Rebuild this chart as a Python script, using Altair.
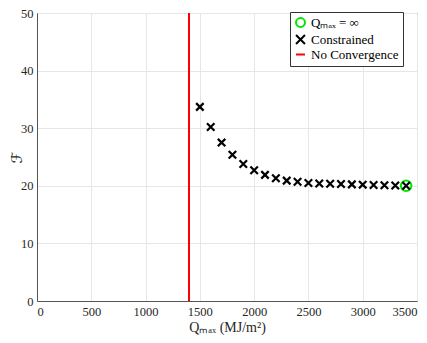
import altair as alt
import pandas as pd

# Data
q_constrained = [1500, 1600, 1700, 1800, 1900, 2000, 2100, 2200, 2300, 2400,
                 2500, 2600, 2700, 2800, 2900, 3000, 3100, 3200, 3300, 3400]
f_constrained = [33.7, 30.2, 27.5, 25.4, 23.8, 22.7, 21.9, 21.3, 20.9, 20.7,
                 20.5, 20.4, 20.35, 20.3, 20.25, 20.2, 20.15, 20.1, 20.05, 20.0]
q_inf = [3400]
f_inf = [20.0]
q_noconv = [1400]

series_names = ["Qₘₐₓ = ∞", "Constrained", "No Convergence"]
series_colors = ["#00e600", "#000000", "#ff0000"]
series_shapes = ["circle", "M-1,-1L1,1M1,-1L-1,1", "stroke"]

df_c = pd.DataFrame({"Q": q_constrained, "F": f_constrained, "series": series_names[1]})
df_i = pd.DataFrame({"Q": q_inf, "F": f_inf, "series": series_names[0]})
df_n = pd.DataFrame({"Q": q_noconv, "series": series_names[2]})

FONT = "Liberation Serif"
W, H = 380, 288

xscale = alt.Scale(domain=[0, 3500], nice=False)
yscale = alt.Scale(domain=[0, 50], nice=False)
xaxis = alt.Axis(values=[0, 500, 1000, 1500, 2000, 2500, 3000, 3500],
                 title="Qₘₐₓ (MJ/m²)", format="d")
yaxis = alt.Axis(values=[0, 10, 20, 30, 40, 50], title="ℱ",
                 titleFont="DejaVu Sans", titleFontSize=15,
                 titleX=-21, titleY=H / 2, titleBaseline="middle",
                 titleAlign="center", titleAngle=270)

leg = alt.Legend(title=None, orient="none", legendX=253, legendY=-1)
color = alt.Color("series:N",
                  scale=alt.Scale(domain=series_names, range=series_colors),
                  legend=leg)
shape = alt.Shape("series:N",
                  scale=alt.Scale(domain=series_names, range=series_shapes),
                  legend=leg)

rule = alt.Chart(df_n).mark_rule(strokeWidth=2).encode(
    x=alt.X("Q:Q", scale=xscale, axis=xaxis),
    color=color,
)

cons = alt.Chart(df_c).mark_point(filled=False, strokeWidth=2.2, size=56, opacity=1).encode(
    x=alt.X("Q:Q", scale=xscale, axis=xaxis),
    y=alt.Y("F:Q", scale=yscale, axis=yaxis),
    color=color,
    shape=shape,
)

inf = alt.Chart(df_i).mark_point(filled=False, strokeWidth=2, size=110, opacity=1).encode(
    x=alt.X("Q:Q", scale=xscale, axis=xaxis),
    y=alt.Y("F:Q", scale=yscale, axis=yaxis),
    color=color,
    shape=shape,
)

chart = alt.layer(rule, inf, cons).properties(
    width=W,
    height=H,
    autosize=alt.AutoSizeParams(type="none"),
    padding={"left": 29, "top": 5, "right": 2, "bottom": 34},
).configure_view(
    stroke="#555555", strokeWidth=1
).configure_axis(
    labelFont=FONT, titleFont=FONT, labelFontSize=12.5, titleFontSize=14,
    labelColor="#262626", titleColor="#262626",
    titleFontWeight="normal",
    gridColor="#e6e6e6", domainColor="#555555", tickColor="#555555",
    ticks=False, labelPadding=4,
).configure_axisX(
    titlePadding=3,
).configure_legend(
    labelFont=FONT, labelFontSize=13, labelColor="#000000",
    strokeColor="#333333", fillColor="#ffffff", padding=4,
    symbolStrokeWidth=2, symbolSize=80, rowPadding=0, cornerRadius=0,
    labelLimit=200,
)

chart.save("out.html", embed_options={"renderer": "svg", "actions": False})
